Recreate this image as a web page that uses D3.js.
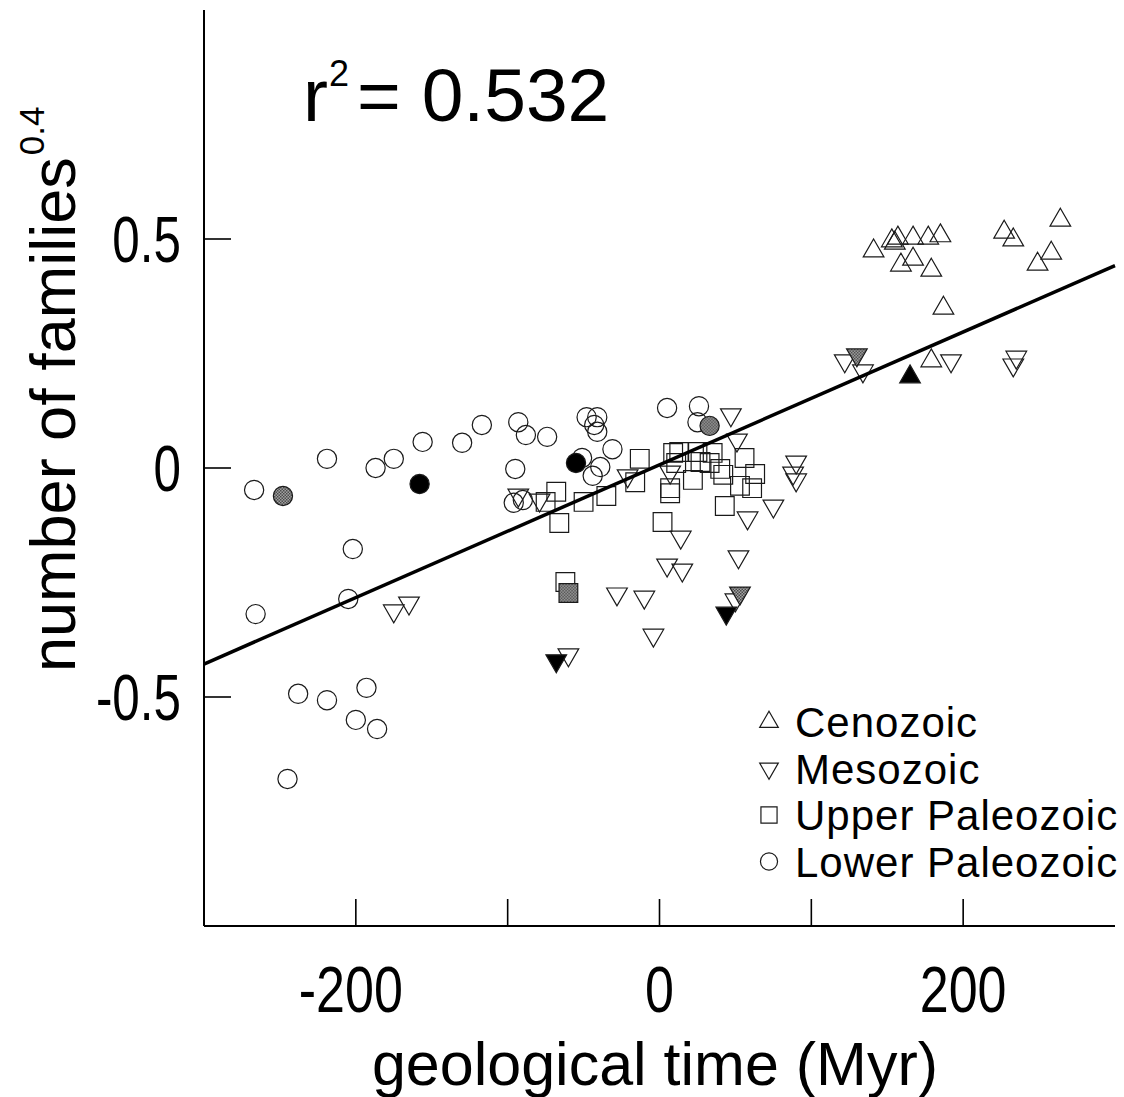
<!DOCTYPE html>
<html>
<head>
<meta charset="utf-8">
<script src="https://cdn.jsdelivr.net/npm/d3@7"></script>
<style>
  body { margin: 0; background: #fff; }
  svg { display: block; }
  text { font-family: 'Liberation Sans', Arial, Helvetica, sans-serif; fill: #000; }
</style>
</head>
<body>
<div id="chart"></div>
<script>
// data: [geological time (Myr), number of families^0.4]
const cenozoicOpen = [
  [141, 0.474], [153, 0.496], [157, 0.502], [155, 0.491], [167, 0.502], [177, 0.502],
  [185, 0.507], [159, 0.443], [167, 0.456], [179, 0.432], [227, 0.515], [233, 0.498],
  [264, 0.541], [258, 0.469], [249, 0.445], [187, 0.349], [179, 0.234]
];
const cenozoicFilled = [[165, 0.199]];
const cenozoicHatched = [];

const mesozoicOpen = [
  [122, 0.234], [134, 0.212], [192, 0.234], [235, 0.242], [233, 0.225], [47, 0.116],
  [51, 0.061], [7, -0.009], [90, 0.013], [88, -0.011], [90, -0.026], [75, -0.083],
  [58, -0.109], [14, -0.151], [5, -0.212], [15, -0.223], [52, -0.194], [-10, -0.282],
  [50, -0.288], [-93, -0.059], [-79, -0.070], [-21, -0.017], [-28, -0.275],
  [-4, -0.365], [-60, -0.408], [-175, -0.312], [-165, -0.295]
];
const mesozoicFilled = [[-68, -0.421], [44, -0.317]];
const mesozoicHatched = [[130, 0.247], [53, -0.273]];

const upperPaleozoicOpen = [
  [-13, 0.020], [-16, -0.031], [-35, -0.061], [-50, -0.074], [-68, -0.052], [-75, -0.074],
  [-66, -0.120], [9, 0.033], [7, -0.055], [7, -0.044], [2, -0.118], [13, 0.035],
  [25, 0.035], [35, 0.033], [27, 0.013], [40, -0.002], [42, -0.015], [56, 0.022],
  [63, -0.013], [53, -0.039], [61, -0.044], [43, -0.083], [22, -0.026], [11, 0.011],
  [33, 0.011], [-62, -0.249]
];
const upperPaleozoicFilled = [];
const upperPaleozoicHatched = [[-60, -0.273]];

const lowerPaleozoicOpen = [
  [-267, -0.048], [-219, 0.020], [-187, 0.000], [-175, 0.020], [-156, 0.057], [-130, 0.055],
  [-117, 0.094], [-93, 0.100], [-88, 0.072], [-74, 0.068], [-95, -0.002], [-96, -0.076],
  [-90, -0.070], [-48, 0.111], [-41, 0.111], [-43, 0.094], [-41, 0.079], [-31, 0.041],
  [-51, 0.022], [-39, 0.002], [-44, -0.017], [5, 0.131], [26, 0.135], [25, 0.100],
  [-202, -0.177], [-205, -0.286], [-266, -0.319], [-238, -0.493], [-219, -0.507],
  [-193, -0.480], [-200, -0.550], [-186, -0.570], [-245, -0.679]
];
const lowerPaleozoicFilled = [[-158, -0.035], [-55, 0.011]];
const lowerPaleozoicHatched = [[-248, -0.061], [33, 0.092]];

const legendLabels = ['Cenozoic', 'Mesozoic', 'Upper Paleozoic', 'Lower Paleozoic'];
const xTicks = [-200, -100, 0, 100, 200];
const xTickLabels = [-200, 0, 200];
const yTicks = [-0.5, 0, 0.5];

// regression fit
const fitIntercept = 0.007;
const fitSlope = 0.00145;
const rSquared = '0.532';

const width = 1124;
const height = 1097;

const svg = d3.select('#chart').append('svg')
  .attr('width', width)
  .attr('height', height);

// hatched fill (the grey screen of the printed figure)
const pat = svg.append('defs').append('pattern')
  .attr('id', 'hatch')
  .attr('width', 3)
  .attr('height', 3)
  .attr('patternUnits', 'userSpaceOnUse');
pat.append('rect').attr('width', 3).attr('height', 3).attr('fill', '#a8a8a8');
pat.append('rect').attr('width', 1.5).attr('height', 1.5).attr('fill', '#444');
pat.append('rect').attr('x', 1.5).attr('y', 1.5).attr('width', 1.5).attr('height', 1.5).attr('fill', '#444');

const x = d3.scaleLinear().domain([-300, 300]).range([204, 1115]);
const y = d3.scaleLinear().domain([-1, 1]).range([926, 10]);

// axes
svg.append('line')
  .attr('x1', x(-300)).attr('x2', x(-300))
  .attr('y1', y(1)).attr('y2', y(-1))
  .attr('stroke', '#000').attr('stroke-width', 2);
svg.append('line')
  .attr('x1', x(-300)).attr('x2', x(300))
  .attr('y1', y(-1)).attr('y2', y(-1))
  .attr('stroke', '#000').attr('stroke-width', 2);

// inward ticks
svg.selectAll('.xtick')
  .data(xTicks)
  .enter().append('line')
  .attr('class', 'xtick')
  .attr('x1', d => x(d)).attr('x2', d => x(d))
  .attr('y1', y(-1)).attr('y2', y(-1) - 27)
  .attr('stroke', '#000').attr('stroke-width', 1.6);

svg.selectAll('.ytick')
  .data(yTicks)
  .enter().append('line')
  .attr('class', 'ytick')
  .attr('x1', x(-300)).attr('x2', x(-300) + 27)
  .attr('y1', d => y(d)).attr('y2', d => y(d))
  .attr('stroke', '#000').attr('stroke-width', 1.6);

// tick labels are set in a narrow face in the original
svg.selectAll('.xlabel')
  .data(xTickLabels)
  .enter().append('text')
  .attr('transform', d => 'translate(' + (x(d) - (d < 0 ? 5 : 0)) + ',1012) scale(0.8,1)')
  .attr('text-anchor', 'middle')
  .style('font-size', '65px')
  .text(d => d);

svg.selectAll('.ylabel')
  .data(yTicks)
  .enter().append('text')
  .attr('transform', d => 'translate(181,' + (y(d) + 23) + ') scale(0.76,1)')
  .attr('text-anchor', 'end')
  .style('font-size', '65px')
  .text(d => d);

// axis titles
svg.append('text')
  .attr('x', 655)
  .attr('y', 1085)
  .attr('text-anchor', 'middle')
  .style('font-size', '61px')
  .text('geological time (Myr)');

const ytitle = svg.append('text')
  .attr('transform', 'translate(75,672) rotate(-90)')
  .style('font-size', '63px');
ytitle.append('tspan').text('number of families');
ytitle.append('tspan').attr('dy', -31).attr('dx', 2).style('font-size', '35px').text('0.4');

// r squared
const rtext = svg.append('text')
  .attr('x', 303)
  .attr('y', 121)
  .style('font-size', '75px');
rtext.append('tspan').text('r');
rtext.append('tspan').attr('dy', -35).attr('dx', 1).style('font-size', '36px').text('2');
rtext.append('tspan').attr('dy', 35).attr('dx', 8).text('= ' + rSquared);

// markers
const sym = {
  up: d3.symbol().type(d3.symbolTriangle).size(185),
  down: d3.symbol().type(d3.symbolTriangle).size(185),
  square: d3.symbol().type(d3.symbolSquare).size(350),
  circle: d3.symbol().type(d3.symbolCircle).size(290)
};
const rot = { up: 0, down: 180, square: 0, circle: 0 };

function drawPoints(data, shape, fill) {
  svg.append('g').selectAll('path')
    .data(data)
    .enter().append('path')
    .attr('d', sym[shape])
    .attr('transform', d => 'translate(' + x(d[0]) + ',' + y(d[1]) + ') rotate(' + rot[shape] + ')')
    .attr('fill', fill)
    .attr('stroke', '#1a1a1a')
    .attr('stroke-width', 1.2);
}

drawPoints(lowerPaleozoicOpen, 'circle', 'none');
drawPoints(upperPaleozoicOpen, 'square', 'none');
drawPoints(mesozoicOpen, 'down', 'none');
drawPoints(cenozoicOpen, 'up', 'none');

drawPoints(lowerPaleozoicHatched, 'circle', 'url(#hatch)');
drawPoints(upperPaleozoicHatched, 'square', 'url(#hatch)');
drawPoints(mesozoicHatched, 'down', 'url(#hatch)');
drawPoints(cenozoicHatched, 'up', 'url(#hatch)');

drawPoints(lowerPaleozoicFilled, 'circle', '#000');
drawPoints(upperPaleozoicFilled, 'square', '#000');
drawPoints(mesozoicFilled, 'down', '#000');
drawPoints(cenozoicFilled, 'up', '#000');

// regression line
const line = d3.line()
  .x(d => x(d))
  .y(d => y(fitIntercept + fitSlope * d));

svg.append('path')
  .datum([-300, 300])
  .attr('fill', 'none')
  .attr('stroke', '#000')
  .attr('stroke-width', 3.5)
  .attr('d', line);

// legend
const legendShapes = ['up', 'down', 'square', 'circle'];
const legendSym = {
  up: d3.symbol().type(d3.symbolTriangle).size(150),
  down: d3.symbol().type(d3.symbolTriangle).size(150),
  square: d3.symbol().type(d3.symbolSquare).size(260),
  circle: d3.symbol().type(d3.symbolCircle).size(230)
};
const legend = svg.append('g').attr('transform', 'translate(769,722)');
const rows = legend.selectAll('g')
  .data(legendLabels)
  .enter().append('g')
  .attr('transform', (d, i) => 'translate(0,' + (i * 46.5) + ')');

rows.append('path')
  .attr('d', (d, i) => legendSym[legendShapes[i]]())
  .attr('transform', (d, i) => 'rotate(' + rot[legendShapes[i]] + ')')
  .attr('fill', 'none')
  .attr('stroke', '#1a1a1a')
  .attr('stroke-width', 1.2);

rows.append('text')
  .attr('x', 26)
  .attr('y', 15)
  .style('font-size', '42px')
  .style('letter-spacing', '1px')
  .text(d => d);
</script>
</body>
</html>
